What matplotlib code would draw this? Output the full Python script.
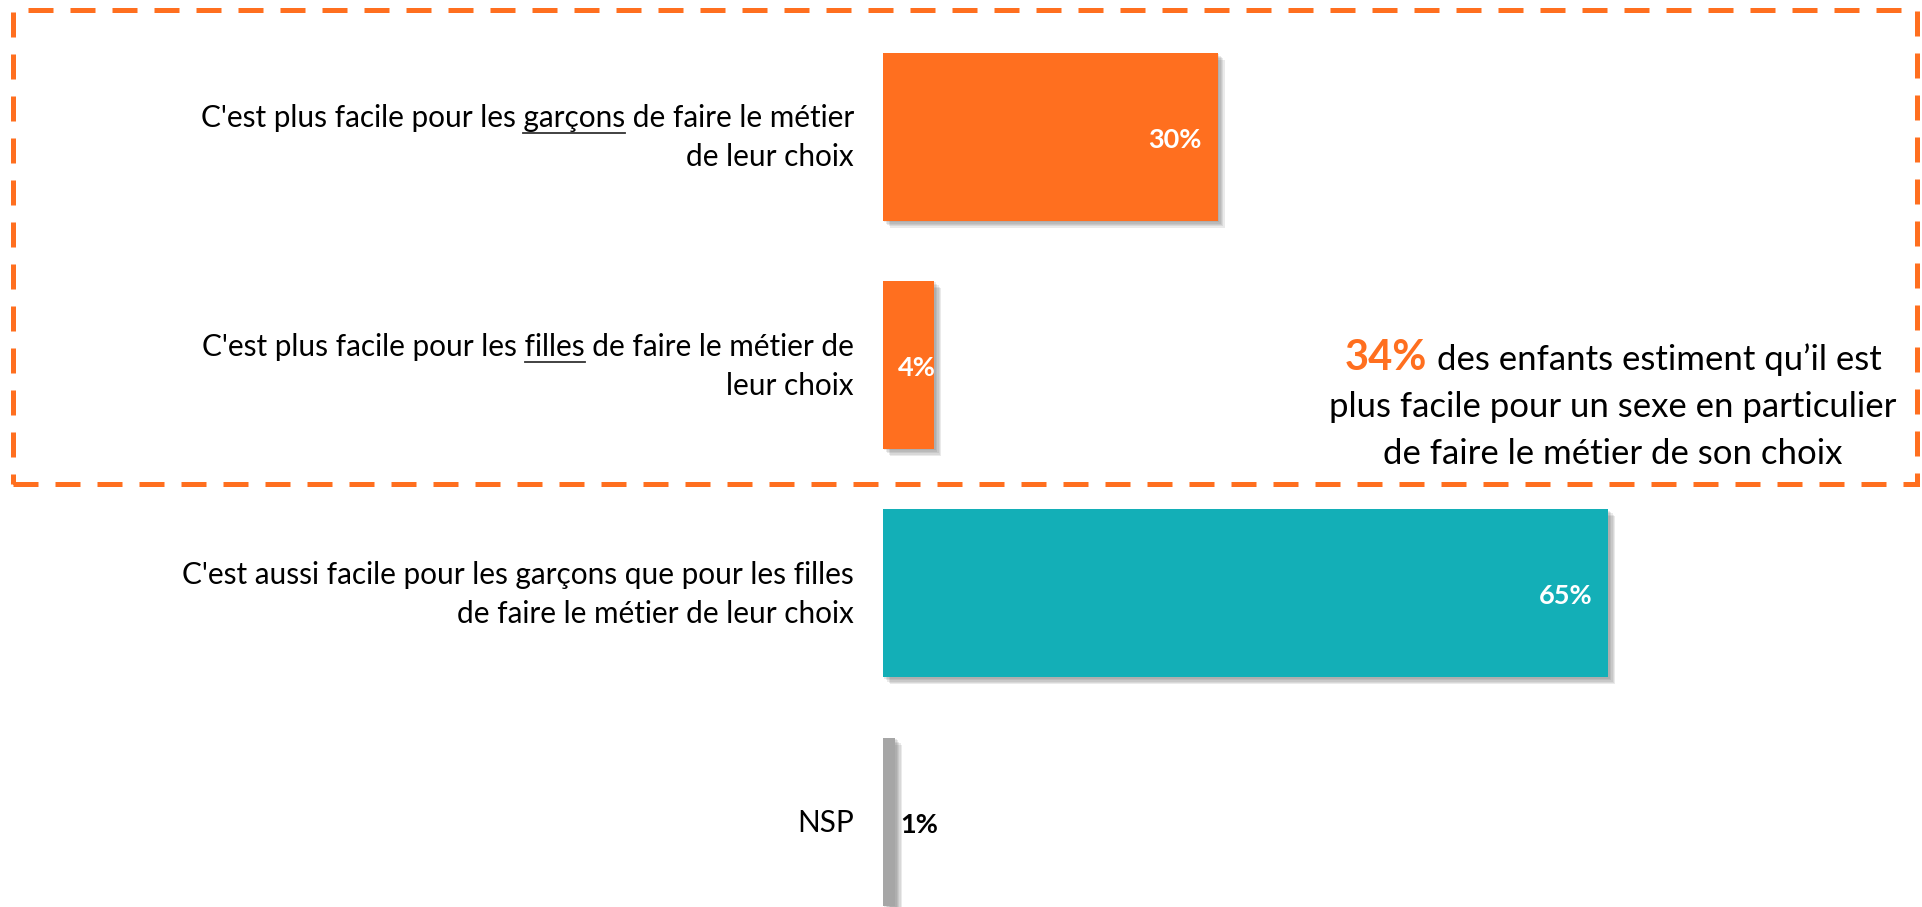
import numpy as np
import matplotlib
matplotlib.use('agg')
import matplotlib.pyplot as plt
import matplotlib.patheffects as pe
from matplotlib.patches import Rectangle
from matplotlib.lines import Line2D
from matplotlib.transforms import offset_copy

plt.rcParams['font.family'] = ['Lato', 'DejaVu Sans']

## data
categories = [
    ["C'est plus facile pour les garçons de faire le métier", "de leur choix"],
    ["C'est plus facile pour les filles de faire le métier de", "leur choix"],
    ["C'est aussi facile pour les garçons que pour les filles",
     "de faire le métier de leur choix"],
    ["NSP"],
]
underlined = ["garçons", "filles", None, None]
values = [30, 4.6, 65, 1.1]
value_labels = ["30%", "4%", "65%", "1%"]
colors = ['#FF6F1F', '#FF6F1F', '#13AFB7', '#A6A6A6']
note_pct = "34%"
note_lines = ["des enfants estiment qu’il est",
              "plus facile pour un sexe en particulier",
              "de faire le métier de son choix"]

orange = '#FF6F1F'
W, H = 1922, 907

fig = plt.figure(figsize=(W / 100, H / 100), dpi=100)
ax = fig.add_axes([0, 0, 1, 1])
px = 11.16  # pixels per percent
ax.set_xlim(-883 / px, (W - 883) / px)
ax.set_ylim(3.374, -0.599)
ax.axis('off')

# bars, with a soft drop shadow
y = np.arange(len(values))
bars = ax.barh(y, values, height=0.736, color=colors)
shadow = [pe.SimplePatchShadow(offset=(d, -d), shadow_rgbFace='#606060', alpha=0.13)
          for d in (1, 2, 3, 4, 5)]
for b in bars:
    b.set_path_effects(shadow + [pe.Normal()])

# value labels
val_fs = 19.5
for i, (v, lab) in enumerate(zip(values, value_labels)):
    if v >= 10:
        ax.annotate(lab, (v, i), xytext=(-16, -11), textcoords='offset pixels',
                    ha='right', va='baseline', color='white', weight='bold', fontsize=val_fs)
    elif v >= 3:
        ax.annotate(lab, (0, i), xytext=(15, -11), textcoords='offset pixels',
                    ha='left', va='baseline', color='white', weight='bold', fontsize=val_fs)
    else:
        ax.annotate(lab, (v, i), xytext=(5, -11), textcoords='offset pixels',
                    ha='left', va='baseline', color='black', weight='bold', fontsize=val_fs)

# category labels
lab_fs = 21.4
first_lines = []
for i, lines in enumerate(categories):
    n = len(lines)
    for k, line in enumerate(lines):
        dy = -(10 + (k - (n - 1) / 2) * 39)
        tr = offset_copy(ax.transData, fig=fig, x=-29, y=dy, units='dots')
        t = ax.text(0, i, line, transform=tr, ha='right', va='baseline',
                    fontsize=lab_fs, color='black')
        if k == 0:
            first_lines.append(t)

# dashed frame around the first two bars
box = Rectangle((13 / W, 1 - 484 / H), (1917 - 13) / W, (484 - 10) / H,
                transform=fig.transFigure, fill=False, edgecolor=orange,
                linewidth=3.6, linestyle=(0, (5, 3.4)))
fig.add_artist(box)

# note text
note_fs = 25
t_pct = fig.text(0, 1 - 370 / H, note_pct, color=orange, weight='bold', fontsize=30,
                 ha='left', va='baseline')
t_rest = fig.text(0, 1 - 370 / H, note_lines[0], color='black', fontsize=note_fs,
                  ha='left', va='baseline')
for b_, line in zip([417, 464], note_lines[1:]):
    fig.text(1613 / W, 1 - b_ / H, line, color='black', fontsize=note_fs,
             ha='center', va='baseline')

fig.canvas.draw()
r = fig.canvas.get_renderer()

w1 = t_pct.get_window_extent(r).width
w2 = t_rest.get_window_extent(r).width
gap = 10
x0 = 1613 - (w1 + gap + w2) / 2
t_pct.set_x(x0 / W)
t_rest.set_x((x0 + w1 + gap) / W)


def text_width(s):
    tmp = fig.text(0, 0, s, fontsize=lab_fs)
    w = tmp.get_window_extent(r).width
    tmp.remove()
    return w


# underline the highlighted words
for t, word in zip(first_lines, underlined):
    if word is None:
        continue
    s = t.get_text()
    bb = t.get_window_extent(r)
    end = bb.x0 + text_width(s[:s.index(word) + len(word)])
    start = end - text_width(word)
    yy = (bb.y0 - 1) / H
    fig.add_artist(Line2D([start / W, end / W], [yy, yy], transform=fig.transFigure,
                          color='#333333', linewidth=1.3))

plt.savefig('out.png', dpi=100)
